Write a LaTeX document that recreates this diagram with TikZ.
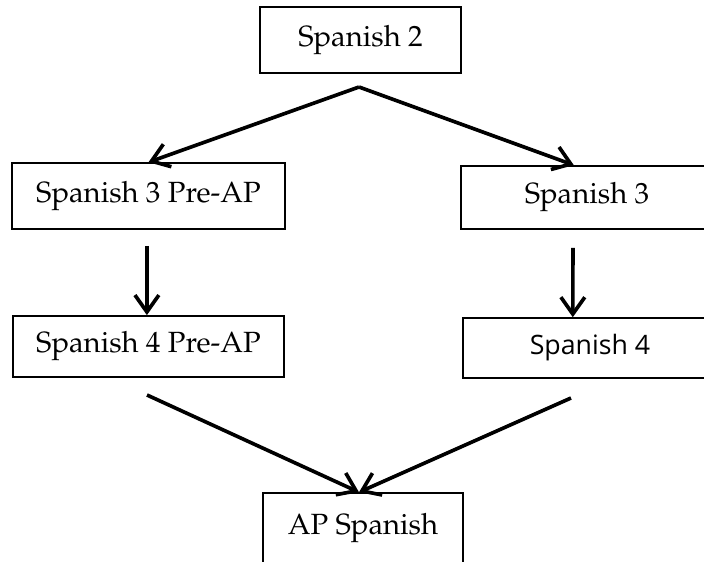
\documentclass[tikz,border=0pt]{standalone}
\usepackage[T1]{fontenc}
\usepackage{fontspec}
\newfontfamily\spsans{Open Sans}
\usetikzlibrary{arrows.meta, positioning}

\newcommand{\palfont}{\fontencoding{T1}\fontfamily{ppl}\selectfont\fontsize{20.8}{25}\selectfont}

\begin{document}
\begin{tikzpicture}[
    x=0.025cm, y=-0.025cm,
    course/.style={
      draw, line width=1.1pt, inner sep=0pt, align=center, font=\palfont
    },
    fl/.style={-{Straight Barb[length=12pt, width=17pt]}, line width=2.6pt}
  ]
    \clip (0,0) rectangle (704,561);

    % --- Kurse ---
    \node[course, minimum width=5.03cm, minimum height=1.65cm] (sp2) at (360.5, 40)  {Spanish 2};
    \node[course, minimum width=6.83cm, minimum height=1.65cm] (p3)  at (148.5, 196) {Spanish 3 Pre-AP};
    \node[course, minimum width=6.30cm, minimum height=1.58cm] (s3)  at (587, 197.5) {Spanish 3};
    \node[course, minimum width=6.78cm, minimum height=1.53cm] (p4)  at (148.5, 346.5) {Spanish 4 Pre-AP};
    \node[course, minimum width=6.35cm, minimum height=1.50cm,
          font=\spsans\fontsize{19}{23}\selectfont] (s4) at (590, 348) {Spanish 4};
    \node[course, minimum width=5.00cm, minimum height=1.75cm] (ap)  at (363, 528) {AP Spanish};

    % --- Pfeile ---
    \coordinate (fork) at (359, 87);
    \coordinate (l4)   at (147, 395);
    \coordinate (r4)   at (571, 398);

    \draw[fl] (fork) -- (p3.north);
    \draw[fl] (fork) -- ([xshift=-0.33cm]s3.north);
    \draw[fl, shorten <=0.4cm]  ([xshift=-0.04cm]p3.south) -- ([xshift=-0.04cm]p4.north);
    \draw[fl, shorten <=0.45cm] ([xshift=-0.35cm]s3.south) -- ([xshift=-0.43cm]s4.north);
    \draw[fl] (l4) -- ([xshift=-0.1cm]ap.north);
    \draw[fl] (r4) -- ([xshift=-0.1cm]ap.north);
  \end{tikzpicture}
\end{document}
